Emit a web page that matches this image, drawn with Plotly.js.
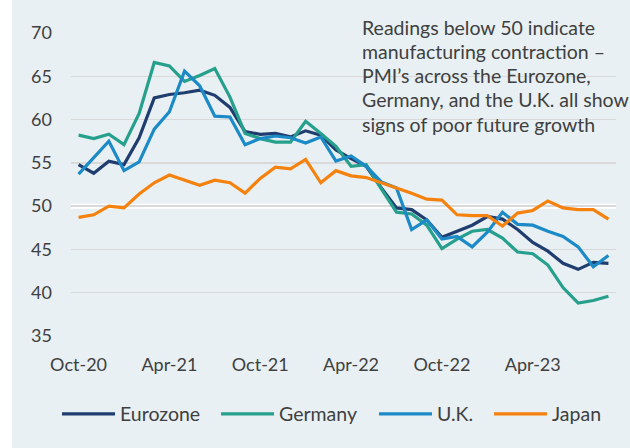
<!DOCTYPE html>
<html><head><meta charset="utf-8">
<script src="https://cdn.plot.ly/plotly-3.0.1.min.js"></script>
<style>
html,body{margin:0;padding:0;background:#ffffff;}
#chart{position:absolute;left:12px;top:0;width:618px;height:448px;}
</style>
</head><body><div id="chart"></div>
<script>
const months = ["Oct-20","Nov-20","Dec-20","Jan-21","Feb-21","Mar-21","Apr-21","May-21","Jun-21","Jul-21","Aug-21","Sep-21",
  "Oct-21","Nov-21","Dec-21","Jan-22","Feb-22","Mar-22","Apr-22","May-22","Jun-22","Jul-22","Aug-22","Sep-22",
  "Oct-22","Nov-22","Dec-22","Jan-23","Feb-23","Mar-23","Apr-23","May-23","Jun-23","Jul-23","Aug-23","Sep-23"];
const tickLabels = ["Oct-20","Apr-21","Oct-21","Apr-22","Oct-22","Apr-23"];
const yTicks = [35,40,45,50,55,60,65,70];

const eurozone = [54.8,53.8,55.2,54.8,57.9,62.5,62.9,63.1,63.4,62.8,61.4,58.6,
  58.3,58.4,58.0,58.7,58.2,56.5,55.5,54.6,52.1,49.8,49.6,48.4,
  46.4,47.1,47.8,48.8,48.5,47.3,45.8,44.8,43.4,42.7,43.5,43.4];
const germany = [58.2,57.8,58.3,57.1,60.7,66.6,66.2,64.4,65.1,65.9,62.6,58.4,
  57.8,57.4,57.4,59.8,58.4,56.9,54.6,54.8,52.0,49.3,49.1,47.8,
  45.1,46.2,47.1,47.3,46.3,44.7,44.5,43.2,40.6,38.8,39.1,39.6];
const uk = [53.7,55.6,57.5,54.1,55.1,58.9,60.9,65.6,63.9,60.4,60.3,57.1,
  57.8,58.1,57.9,57.3,58.0,55.2,55.8,54.6,52.8,52.1,47.3,48.4,
  46.2,46.5,45.3,47.0,49.3,47.9,47.8,47.1,46.5,45.3,43.0,44.3];
const japan = [48.7,49.0,50.0,49.8,51.4,52.7,53.6,53.0,52.4,53.0,52.7,51.5,
  53.2,54.5,54.3,55.4,52.7,54.1,53.5,53.3,52.7,52.1,51.5,50.8,
  50.7,49.0,48.9,48.9,47.7,49.2,49.5,50.6,49.8,49.6,49.6,48.5];

const seriesNames = ["Eurozone","Germany","U.K.","Japan"];
const seriesValues = [eurozone, germany, uk, japan];
const seriesColors = ["#1F3E6F","#26A08D","#1B8AC6","#F5820F"];
const legendIds = ["legend","legend2","legend3","legend4"];
const legendX = [-0.0257, 0.2661, 0.5560, 0.7670];

const noteLines = ["Readings below 50 indicate","manufacturing contraction –","PMI’s across the Eurozone,",
  "Germany, and the U.K. all show","signs of poor future growth"];
const noteY = [1.0185, 0.9386, 0.8588, 0.7789, 0.6990];

const traces = seriesValues.map((vals, k) => ({
  type: "scatter", mode: "lines",
  x: months, y: vals, name: seriesNames[k], legend: legendIds[k],
  line: {color: seriesColors[k], width: 3.2},
  hoverinfo: "skip"
}));

const txt = "#404040";
const layout = {
  width: 618, height: 448,
  margin: {l: 59, r: 14, t: 33, b: 112, autoexpand: false},
  paper_bgcolor: "#E8F0F3",
  plot_bgcolor: "#E8F0F3",
  font: {family: "Lato, sans-serif", size: 18, color: txt},
  showlegend: true,
  xaxis: {type: "category", range: [-0.5, 35.5], tickmode: "array",
          tickvals: tickLabels, ticktext: tickLabels, automargin: false,
          showgrid: false, zeroline: false, showline: false,
          ticks: "", ticklabelstandoff: 16, tickfont: {size: 18, color: txt}, fixedrange: true},
  yaxis: {range: [35, 70], tickmode: "array", tickvals: yTicks, automargin: false,
          showgrid: true, gridcolor: "#D9D9D9", gridwidth: 1.5,
          zeroline: false, showline: false, ticks: "", ticklabelstandoff: 18,
          tickfont: {size: 18, color: txt}, fixedrange: true},
  shapes: [{type: "line", xref: "paper", x0: 0, x1: 1, yref: "y", y0: 50, y1: 50,
            line: {color: "#FFFFFF", width: 5}, layer: "between"}],
  annotations: noteLines.map((t, i) => ({
    xref: "paper", yref: "paper", x: 0.531, y: noteY[i], xanchor: "left", yanchor: "middle",
    align: "left", showarrow: false, text: t,
    font: {size: 19.5, color: txt}
  }))
};
legendIds.forEach((id, k) => {
  layout[id] = {orientation: "h", x: legendX[k], xanchor: "left", y: -0.258, yanchor: "middle",
                itemwidth: 53, bgcolor: "rgba(0,0,0,0)", font: {size: 19.5, color: txt}};
});

Plotly.newPlot("chart", traces, layout, {displayModeBar: false, staticPlot: true});
</script>
</body></html>
